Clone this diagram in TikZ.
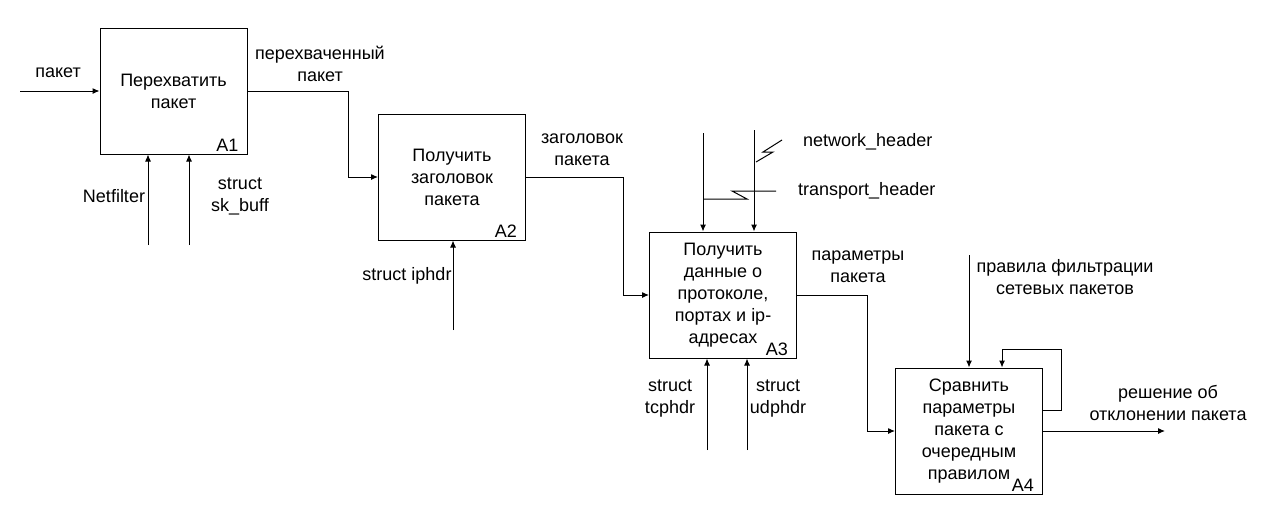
\documentclass[tikz,border=0pt]{standalone}
\usepackage{fontspec}
\setmainfont{Liberation Sans}
\usetikzlibrary{arrows.meta, positioning, calc}

\begin{document}
\begin{tikzpicture}
  [
    x=1pt, y=-1pt,
    Box/.style={draw=black, line width=1pt, minimum width=147pt, minimum height=126pt, align=center, inner sep=0pt},
    Num/.style={anchor=south east, inner xsep=9pt, inner ysep=3pt},
    Lbl/.style={align=center, inner sep=0pt},
    Arr/.style={draw, line width=1pt, -{Latex[length=7pt, width=6pt]}},
    Ln/.style={draw, line width=1pt}
  ]
  \useasboundingbox (0,0) rectangle (1265,509);
  \fontsize{18}{22}\selectfont

  % Boxes
  \node[Box] (a1) at(173.5, 91) {Перехватить\\пакет};
  \node[Num] at (a1.south east) {A1};

  \node[Box] (a2) at(452, 177) {Получить\\заголовок\\пакета};
  \node[Num] at (a2.south east) {A2};

  \node[Box] (a3) at(723, 295) {Получить\\данные о\\протоколе,\\портах и ip-\\адресах};
  \node[Num] at (a3.south east) {A3};

  \node[Box] (a4) at(969, 431) {Сравнить\\параметры\\пакета с\\очередным\\правилом};
  \node[Num] at (a4.south east) {A4};

  % Free ends and bends
  \coordinate (in1) at(20, 91);
  \coordinate (j1) at(348, 177);
  \coordinate (j2) at(623, 295);
  \coordinate (j3) at(867, 431);
  \coordinate (out1) at(1165, 431);
  \coordinate (netf) at(148, 245);
  \coordinate (skb) at(189, 245);
  \coordinate (iph) at(453, 330);
  \coordinate (tcp) at(707, 450);
  \coordinate (udp) at(747, 450);
  \coordinate (trh) at(703, 133);
  \coordinate (nwh) at(754, 130);
  \coordinate (rul) at(969, 255);
  \coordinate (fb1) at(1061, 410);
  \coordinate (fb2) at(1002, 349);

  % Arrows
  \path [Arr] (in1) -- (a1.west);
  \path [Arr] (a1.east) -| (j1) -- (a2.west);
  \path [Arr] (a2.east) -| (j2) -- (a3.west);
  \path [Arr] (a3.east) -| (j3) -- (a4.west);
  \path [Arr] (a4.east |- out1) -- (out1);
  \path [Arr] (a4.east |- fb1) -- (fb1) |- (fb2) -- (fb2 |- a4.north);

  \path [Arr] (netf) -- (netf |- a1.south);
  \path [Arr] (skb) -- (skb |- a1.south);
  \path [Arr] (iph) -- (a2.south -| iph);
  \path [Arr] (tcp) -- (tcp |- a3.south);
  \path [Arr] (udp) -- (udp |- a3.south);
  \path [Arr] (trh) -- (trh |- a3.north);
  \path [Arr] (nwh) -- (nwh |- a3.north);
  \path [Arr] (rul) -- (rul |- a4.north);

  % Squiggles
  \path [Ln] (756, 162) -- (773, 152) -- (763, 152) -- (782, 140);
  \path [Ln] (703, 199) -- (747, 199) -- (732, 191) -- (776, 191);

  % Labels
  \node[Lbl] (l1) at(58, 73) {пакет};
  \node[Lbl] (l2) at(320, 64) {перехваченный\\пакет};
  \node[Lbl] (l3) at(114, 196) {Netfilter};
  \node[Lbl] (l4) at(240, 196) {struct\\sk\_buff};
  \node[Lbl] (l5) at(407, 276) {struct iphdr};
  \node[Lbl] (l6) at(582, 150) {заголовок\\пакета};
  \node[Lbl, anchor=west] (l7) at(803, 142) {network\_header};
  \node[Lbl, anchor=west] (l8) at(798, 191) {transport\_header};
  \node[Lbl] (l9) at(858, 267) {параметры\\пакета};
  \node[Lbl] (l10) at(670, 399) {struct\\tcphdr};
  \node[Lbl] (l11) at(778, 399) {struct\\udphdr};
  \node[Lbl] (l12) at(1065, 277) {правила фильтрации\\сетевых пакетов};
  \node[Lbl] (l13) at(1168, 403) {решение об\\отклонении пакета};

\end{tikzpicture}
\end{document}
